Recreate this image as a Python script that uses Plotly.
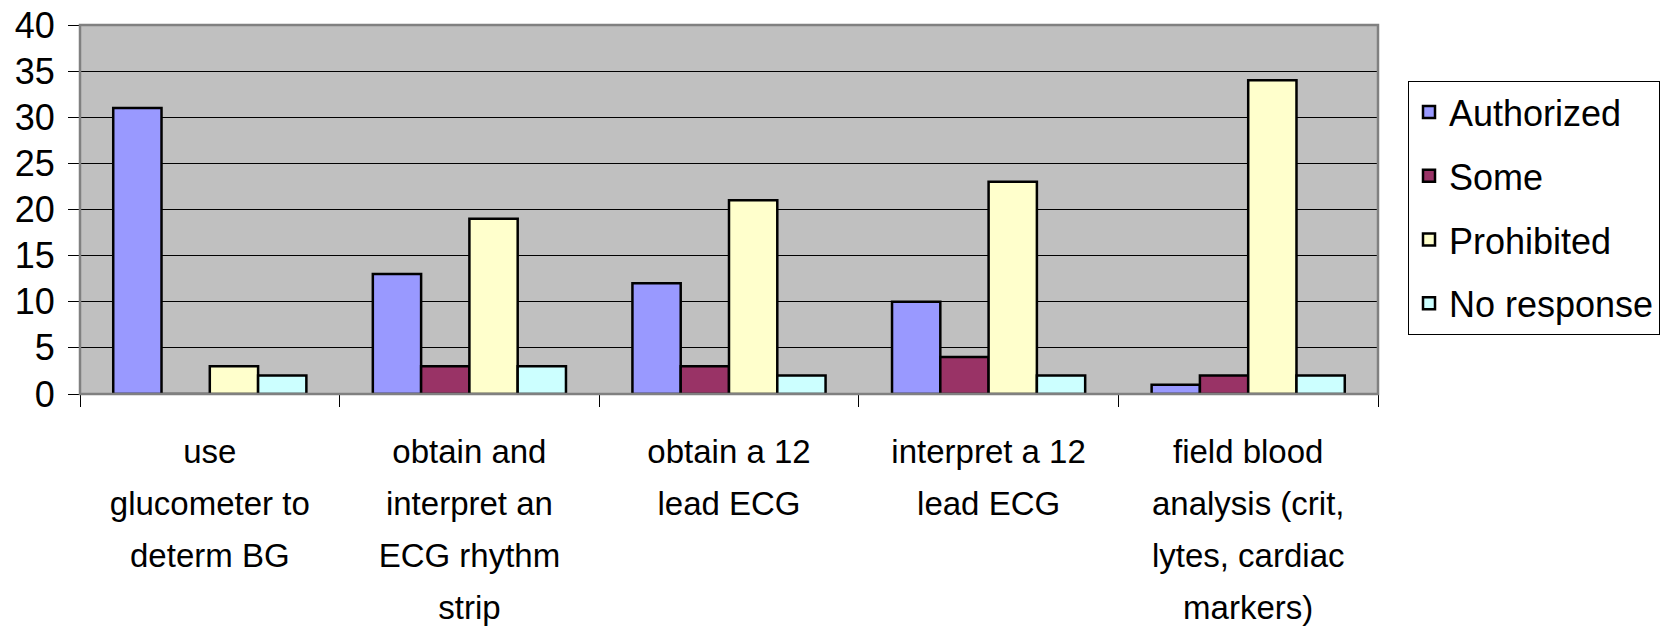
import plotly.graph_objects as go

categories = [
    "use<br>glucometer to<br>determ BG",
    "obtain and<br>interpret an<br>ECG rhythm<br>strip",
    "obtain a 12<br>lead ECG",
    "interpret a 12<br>lead ECG",
    "field blood<br>analysis (crit,<br>lytes, cardiac<br>markers)",
]
series_names = ["Authorized", "Some", "Prohibited", "No response"]
authorized = [31, 13, 12, 10, 1]
some = [0, 3, 3, 4, 2]
prohibited = [3, 19, 21, 23, 34]
no_response = [2, 3, 2, 2, 2]
colors = ["#9999FF", "#993366", "#FFFFCC", "#CCFFFF"]
y_ticks = [0, 5, 10, 15, 20, 25, 30, 35, 40]

FONT = "Liberation Sans, Arial, sans-serif"
LABEL_PX = 33


def wrap_label(label):
    return "<br>".join(f'<span style="font-size:{LABEL_PX}px">{p}</span>'
                       for p in label.split("<br>"))


tick_text = [wrap_label(c) for c in categories]

fig = go.Figure()
for i, (name, vals) in enumerate(zip(series_names, [authorized, some, prohibited, no_response])):
    fig.add_trace(go.Bar(
        name=name, x=categories, y=vals,
        marker=dict(color=colors[i], line=dict(color="black", width=2.5)),
        legendgroup=name,
    ))

fig.update_layout(
    width=1673, height=627,
    margin=dict(l=80, r=295, t=25, b=233, autoexpand=False),
    paper_bgcolor="white", plot_bgcolor="#C0C0C0",
    barmode="group", bargap=0.256, bargroupgap=0,
    font=dict(family=FONT, color="black"),
    showlegend=True,
    legend=dict(
        x=1408 / 1673, xref="container", xanchor="left",
        y=1 - 81 / 627, yref="container", yanchor="top",
        bordercolor="black", borderwidth=1, bgcolor="white",
        font=dict(size=36, family=FONT, color="black"),
        tracegroupgap=14, itemwidth=30,
    ),
    xaxis=dict(
        tickmode="array", tickvals=categories, ticktext=tick_text,
        tickfont=dict(size=40, family=FONT, color="black"),
        ticks="outside", tickson="boundaries", ticklen=12, tickcolor="black", tickwidth=1,
        showline=True, linecolor="black", linewidth=1,
        showgrid=False, ticklabelstandoff=20, automargin=False,
    ),
    yaxis=dict(
        range=[0, 40], tickvals=y_ticks,
        tickfont=dict(size=36, family=FONT, color="black"),
        ticks="outside", ticklen=11, tickcolor="black", tickwidth=1,
        showline=True, linecolor="black", linewidth=1,
        showgrid=True, gridcolor="black", gridwidth=1,
        zeroline=False, ticklabelstandoff=6, automargin=False,
    ),
)

fig.add_shape(type="rect", xref="paper", yref="paper", x0=0, x1=1, y0=0, y1=1,
              line=dict(color="#808080", width=2.5), layer="above")
fig.update_xaxes(layer="above traces")
fig.update_yaxes(layer="above traces")

fig.write_html(
    "out.html",
    config={"displayModeBar": False},
    post_script="document.body.style.margin='0';document.body.style.overflow='hidden';",
)
